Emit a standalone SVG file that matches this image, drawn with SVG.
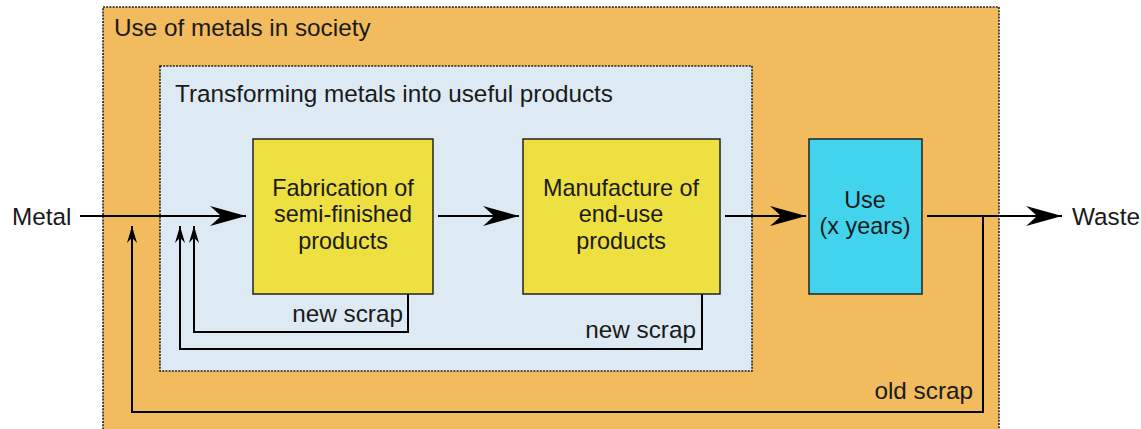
<svg xmlns="http://www.w3.org/2000/svg" width="1141" height="429" viewBox="0 0 1141 429">
<style>
text{font-family:"Liberation Sans",Arial,sans-serif;fill:#1a1a1a}
.t{font-size:24.3px}
.b{font-size:23.4px}
.c{text-anchor:middle}
.e{text-anchor:end}
.frame{stroke:#222;stroke-width:1.6;stroke-dasharray:2 1.2}
.box{stroke:#222;stroke-width:1.5}
.ln{fill:none;stroke:#000;stroke-width:2}
</style>
<defs>
<marker id="big" markerUnits="userSpaceOnUse" markerWidth="40" markerHeight="24" viewBox="-36 -12 40 24" refX="0" refY="0" orient="auto">
<path d="M0,0 L-36,-10 Q-28,-3 -25,0 Q-28,3 -36,10 Z" fill="#000"/>
</marker>
<marker id="small" markerUnits="userSpaceOnUse" markerWidth="20" markerHeight="12" viewBox="-18 -6 20 12" refX="0" refY="0" orient="auto">
<path d="M0,0 L-17,-5 Q-13,-1.5 -12,0 Q-13,1.5 -17,5 Z" fill="#000"/>
</marker>
</defs>
<rect width="1141" height="429" fill="#fff"/>
<g id="society">
<rect class="frame" x="103" y="7" width="896" height="440" fill="#F2BC5E"/>
<text class="t" x="114" y="36">Use of metals in society</text>
</g>
<g id="transforming">
<rect class="frame" x="160" y="66" width="592" height="305" fill="#DDEAF3"/>
<text class="t" x="175" y="102">Transforming metals into useful products</text>
</g>
<g id="connectors">
<path class="ln" d="M80,216 H246" marker-end="url(#big)"/>
<path class="ln" d="M438,216 H519" marker-end="url(#big)"/>
<path class="ln" d="M725,216 H806" marker-end="url(#big)"/>
<path class="ln" d="M927,216 H1062" marker-end="url(#big)"/>
<path class="ln" d="M983,216 V412 H132 V226" marker-end="url(#small)"/>
<path class="ln" d="M408,294 V332 H194 V226" marker-end="url(#small)"/>
<path class="ln" d="M702,294 V349 H180 V226" marker-end="url(#small)"/>
</g>
<g id="fabrication">
<rect class="box" x="253" y="139" width="180" height="155" fill="#EDE040"/>
<text class="b c" x="343" y="196">Fabrication of<tspan x="343" dy="26.3">semi-finished</tspan><tspan x="343" dy="26.3">products</tspan></text>
</g>
<g id="manufacture">
<rect class="box" x="523" y="139" width="197" height="155" fill="#EDE040"/>
<text class="b c" x="621" y="196">Manufacture of<tspan x="621" dy="26.3">end-use</tspan><tspan x="621" dy="26.3">products</tspan></text>
</g>
<g id="use">
<rect class="box" x="809" y="139" width="113" height="155" fill="#42D4EC"/>
<text class="b c" x="865" y="208">Use<tspan x="865" dy="26.3">(x years)</tspan></text>
</g>
<g id="labels">
<text class="t" x="12" y="225">Metal</text>
<text class="t" x="1072" y="225">Waste</text>
<text class="t e" x="403" y="322">new scrap</text>
<text class="t e" x="696" y="338">new scrap</text>
<text class="t e" x="973" y="399">old scrap</text>
</g>
</svg>
